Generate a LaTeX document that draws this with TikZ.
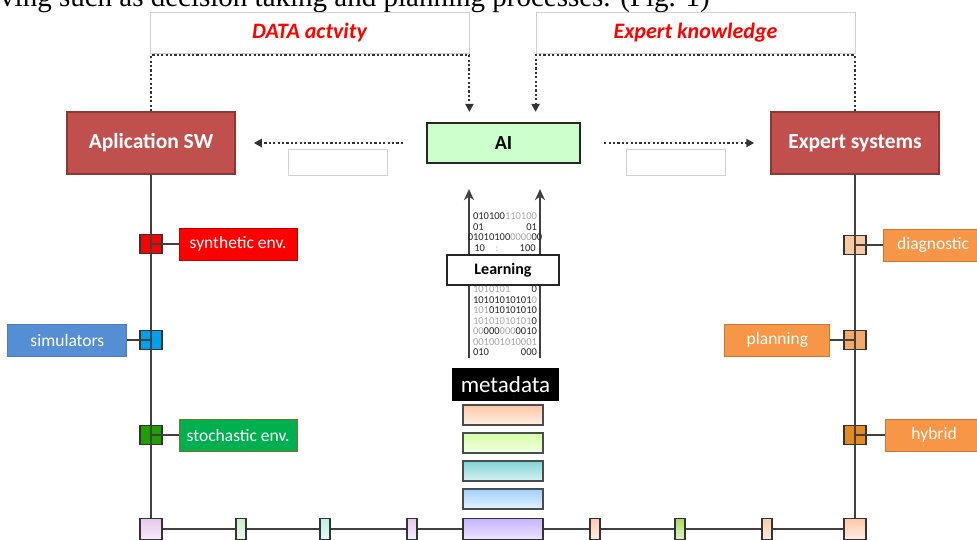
\documentclass[tikz,border=0pt]{standalone}
\usepackage{fontspec}
\setmainfont{Carlito}
\newfontfamily\bodyserif{Liberation Serif}
\usepackage{xcolor}
\usetikzlibrary{arrows.meta}
\usetikzlibrary{positioning}

\definecolor{appred}{HTML}{C0504D}
\definecolor{appredd}{HTML}{8C3836}
\definecolor{aigreen}{HTML}{CCFFCC}
\definecolor{synred}{HTML}{FF0000}
\definecolor{synredd}{HTML}{C00000}
\definecolor{simblue}{HTML}{558ED5}
\definecolor{simblued}{HTML}{4A7EBB}
\definecolor{stogreen}{HTML}{00B050}
\definecolor{stogreend}{HTML}{7F6F20}
\definecolor{sqblue}{HTML}{00A0F0}
\definecolor{sqgreen}{HTML}{20A000}
\definecolor{orange}{HTML}{F79646}
\definecolor{oranged}{HTML}{C9782E}
\definecolor{sqdiag}{HTML}{FBC9A0}
\definecolor{sqplan}{HTML}{F4A86A}
\definecolor{sqhyb}{HTML}{E48A20}
\definecolor{peach}{HTML}{FFC8A8}
\definecolor{lgreen}{HTML}{D4FFA8}
\definecolor{lcyan}{HTML}{80D4D4}
\definecolor{lblue}{HTML}{A0D0FF}
\definecolor{lav}{HTML}{C8B4FF}
\definecolor{mint}{HTML}{C8F0C8}
\definecolor{aqua}{HTML}{B8F0E8}
\definecolor{pink}{HTML}{E8C8F0}
\definecolor{lime}{HTML}{A8D860}

\newcommand{\binlo}[1]{\textcolor{black!35}{#1}}

\begin{document}
\begin{tikzpicture}[x=1pt,y=-1pt]
  \tikzstyle{main}=[draw=appredd, line width=1.5pt, fill=appred, text=white, inner sep=0pt,
    minimum width=168pt, minimum height=62pt, font=\bfseries\fontsize{21.5}{24}\selectfont]
  \tikzstyle{note}=[draw=black!18, line width=0.8pt, inner sep=0pt]
  \tikzstyle{dots}=[black!80, line width=2pt, dash pattern=on 2.2pt off 2.2pt]
  \tikzstyle{wire}=[black!75, line width=1.8pt]
  \tikzstyle{tick}=[draw=black!80, line width=1.2pt, inner sep=0pt, minimum width=22pt, minimum height=19pt]
  \tikzstyle{tag}=[line width=1pt, text=white, inner sep=0pt, minimum width=118pt, minimum height=32pt,
    font=\fontsize{17.5}{20}\selectfont]
  \tikzstyle{bar}=[draw=black!70, line width=1.5pt, inner sep=0pt, minimum width=80pt, minimum height=20pt]
  \tikzstyle{tri}=[-{Triangle[length=8pt,width=8pt]}]
\useasboundingbox (0,0) rectangle (977,539);
\clip (0,0) rectangle (977,539);
\fill[white] (0,0) rectangle (977,539);

% line of the page above the figure
\node[anchor=base west, inner sep=0pt, font=\bodyserif\fontsize{29}{30}\selectfont] (page) at (0,6)
  {ving such as decision taking and planning processes. (Fig. 1)};

\node[main] (appsw) at (151,143) {Aplication SW};
\node[main] (expsys) at (855,143) {Expert systems};
\node[draw=black!85, line width=2.2pt, fill=aigreen, minimum width=153pt, minimum height=40pt,
  font=\bfseries\fontsize{20}{22}\selectfont] (ai) at (503.5,143) {AI};

\node[note, minimum width=319pt, minimum height=41pt, text=red,
  font=\bfseries\itshape\fontsize{22}{24}\selectfont] (data) at (309.5,32.5) {DATA actvity};
\node[note, minimum width=319pt, minimum height=41pt, text=red,
  font=\bfseries\itshape\fontsize{22}{24}\selectfont] (know) at (695.5,32.5) {Expert knowledge};
\node[note, minimum width=99pt, minimum height=26pt] (blankl) at (337.5,162) {};
\node[note, minimum width=99pt, minimum height=26pt] (blankr) at (676,162) {};

\draw[dots,tri,shorten >=12pt] (appsw.north) |- ([yshift=-2pt]data.south east)
  -- ([yshift=-2pt]data.south east |- ai.north);
\draw[dots,tri,shorten >=12pt] (expsys.north) |- ([yshift=-2pt]know.south west)
  -- ([yshift=-2pt]know.south west |- ai.north);
\draw[dots,tri,shorten <=23pt,shorten >=18pt] (ai.west) -- (appsw.east);
\draw[dots,tri,shorten <=23pt,shorten >=16pt] (ai.east) -- (expsys.west);

% ticks on the two sides
\node[tick, fill=synred] (s1) at (151,244) {};
\node[tick, fill=sqblue] (s2) at (151,340) {};
\node[tick, fill=sqgreen] (s3) at (151,435) {};
\node[tick, fill=sqdiag] (s4) at (855,245) {};
\node[tick, fill=sqplan] (s5) at (855,340) {};
\node[tick, fill=sqhyb] (s6) at (855,435) {};

\node[tag, fill=synred, draw=synredd, right=16pt of s1] (syn) {synthetic env.};
\node[tag, fill=simblue, draw=simblued, minimum width=119pt, left=12pt of s2] (sim) {simulators};
\node[tag, fill=stogreen, draw=stogreend, right=16pt of s3] (sto) {stochastic env.};
\node[tag, fill=orange, draw=oranged, minimum width=100pt, right=16pt of s4] (diag) {diagnostic};
\node[tag, fill=orange, draw=oranged, minimum width=105pt, left=13pt of s5] (plan) {planning};
\node[tag, fill=orange, draw=oranged, minimum width=98pt, right=18pt of s6] (hyb) {hybrid};

\coordinate (bl) at (151,529);
\coordinate (br) at (855,529);
\draw[wire] (appsw.south) -- (bl);
\draw[wire] (expsys.south) -- (br);
\draw[wire] (bl) -- (br);
\foreach \i/\lab in {1/syn,2/sim,3/sto,4/diag,5/plan,6/hyb}
  \draw[wire, line width=1.3pt] (s\i.center) -- (\lab);

% boxes on the bottom line
\foreach \x/\w/\c [count=\i] in {151/22/pink, 241/10/mint, 325/10/aqua, 412/10/pink, 503/80/lav,
    595/10/peach, 680/10/lime, 767/10/peach, 855/22/peach}
  \node[tick, line width=1.4pt, minimum width=\w pt, minimum height=21pt,
    top color=\c, bottom color=\c!35!white] (b\i) at (\x,529) {};

% stack under the metadata
\foreach \y/\c in {415/peach, 443/lgreen, 471/lcyan, 499/lblue}
  \node[bar, top color=\c, bottom color=\c!30!white] (m\y) at (503,\y) {};
\node[fill=black, text=white, inner sep=0pt, minimum width=107pt, minimum height=33pt,
  font=\fontsize{23}{25}\selectfont] (meta) at (505.5,384.5) {metadata};

% learning
\coordinate (la) at (469,358);
\coordinate (lb) at (540,358);
\draw[wire, line width=2.2pt, -{Stealth[length=11pt,width=10pt]}, shorten >=25pt] (la) -- (la |- ai.south);
\draw[wire, line width=2.2pt, -{Stealth[length=11pt,width=10pt]}, shorten >=25pt] (lb) -- (lb |- ai.south);
\node[align=center, inner sep=0pt, text=black!85, font=\fontsize{10.5}{10.5}\selectfont] (bitsup) at (505,232)
  {010100\binlo{110100}\\01\phantom{00000000}01\\01010100\binlo{0000}00\\10\binlo{\phantom{00}:\phantom{0000}}100};
\node[align=center, inner sep=0pt, text=black!85, font=\fontsize{10.5}{10.5}\selectfont] (bitsdn) at (505,321)
  {\binlo{1010101}\phantom{0000}0\\10101010101\binlo{0}\\\binlo{101}010101010\\\binlo{10101010101}0\\%
   \binlo{00}000\binlo{000}0010\\\binlo{001001010001}\\010\phantom{000000}000};
\node[draw=black!85, line width=1.8pt, fill=white, minimum width=112pt, minimum height=30pt,
  font=\bfseries\fontsize{16}{18}\selectfont] (learn) at (503,270) {Learning};
\end{tikzpicture}
\end{document}
